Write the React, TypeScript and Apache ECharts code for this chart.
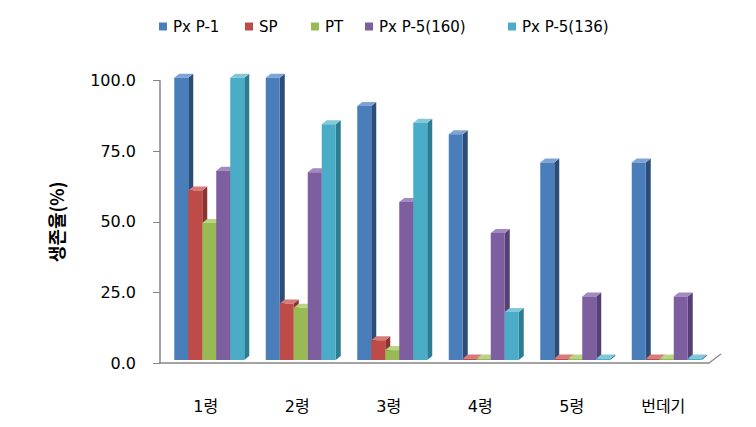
import React, { useEffect, useRef } from "react";
import * as echarts from "echarts";

const categories = ["1령", "2령", "3령", "4령", "5령", "번데기"];
const seriesNames = ["Px P-1", "SP", "PT", "Px P-5(160)", "Px P-5(136)"];
const pxP1 = [100, 100, 90, 80, 70, 70];
const sp = [60, 20, 7, 0, 0, 0];
const pt = [48.5, 18.5, 3.5, 0, 0, 0];
const pxP5_160 = [67, 66.5, 56, 45, 22.5, 22.5];
const pxP5_136 = [100, 83.5, 84, 17, 0, 0];
const seriesValues = [pxP1, sp, pt, pxP5_160, pxP5_136];
const yAxisTitle = "생존율(%)";

const frontColors = ["#4a7ebb", "#be4b48", "#98b954", "#7d5fa0", "#4aacc6"];
const sideColors = ["#2c4d78", "#8a3432", "#6c8a38", "#564073", "#2c7d92"];
const topColors = ["#7ea3d6", "#d77a78", "#b9d583", "#a189c1", "#82c8da"];
const legendLefts = [154, 240, 306, 360, 503];

export default function App() {
  const ref = useRef<HTMLDivElement>(null);
  useEffect(() => {
    if (!ref.current) return;
    const chart = echarts.init(ref.current, undefined, { renderer: "svg" });
    const series = seriesValues.map((vals, sIdx) => ({
      type: "custom",
      name: seriesNames[sIdx],
      itemStyle: { color: frontColors[sIdx] },
      encode: { x: 0, y: 1 },
      data: vals.map((v, i) => [i, v]),
      renderItem: (params: any, api: any) => {
        const ci = api.value(0);
        const v = api.value(1);
        const catW = api.size([1, 0])[0];
        const base = api.coord([ci, 0]);
        const top = api.coord([ci, v]);
        const bw = (catW * 14) / 91.5;
        const dx = (catW * 5) / 91.5;
        const dy = -4;
        const lift = 3;
        const left = base[0] - (catW * 31.5) / 91.5 + sIdx * bw;
        const yb = base[1] - lift;
        let yt = top[1] - lift;
        if (yb - yt < 1.5) yt = yb - 1.5;
        return {
          type: "group",
          children: [
            {
              type: "polygon",
              shape: {
                points: [
                  [left + bw, yt],
                  [left + bw + dx, yt + dy],
                  [left + bw + dx, yb + dy],
                  [left + bw, yb],
                ],
              },
              style: { fill: sideColors[sIdx] },
            },
            {
              type: "polygon",
              shape: {
                points: [
                  [left, yt],
                  [left + dx, yt + dy],
                  [left + bw + dx, yt + dy],
                  [left + bw, yt],
                ],
              },
              style: { fill: topColors[sIdx] },
            },
            {
              type: "rect",
              shape: { x: left, y: yt, width: bw, height: yb - yt },
              style: { fill: frontColors[sIdx] },
            },
          ],
        };
      },
    }));

    chart.setOption({
      animation: false,
      backgroundColor: "#ffffff",
      grid: { left: 160, right: 47, top: 80.7, bottom: 64 },
      legend: seriesNames.map((n, i) => ({
        data: [n],
        left: legendLefts[i],
        top: 14,
        itemWidth: 8,
        itemHeight: 8,
        icon: "rect",
        textStyle: {
          fontSize: 15,
          fontFamily: "DejaVu Sans",
          color: "#000",
          padding: [0, 0, 0, 1],
        },
      })),
      xAxis: {
        type: "category",
        data: categories,
        boundaryGap: true,
        axisLine: { lineStyle: { color: "#868686", width: 1.5 } },
        axisTick: { length: 7, lineStyle: { color: "#868686" } },
        axisLabel: {
          margin: 35,
          fontSize: 16,
          color: "#000",
          fontFamily: "'DejaVu Sans', 'Noto Sans CJK KR'",
        },
      },
      yAxis: {
        type: "value",
        min: 0,
        max: 100,
        interval: 25,
        name: yAxisTitle,
        nameLocation: "middle",
        nameGap: 95,
        nameTextStyle: {
          fontSize: 18,
          fontWeight: "bold",
          color: "#000",
          fontFamily: "'Noto Sans CJK KR'",
        },
        splitLine: { show: false },
        axisLine: { show: true, lineStyle: { color: "#868686", width: 1.5 } },
        axisTick: { show: true, length: 7, lineStyle: { color: "#868686" } },
        axisLabel: {
          margin: 24,
          fontSize: 16,
          color: "#000",
          fontFamily: "DejaVu Sans",
          formatter: (v: number) => v.toFixed(1),
        },
      },
      graphic: [
        {
          type: "line",
          shape: { x1: 709, y1: 363, x2: 721, y2: 354 },
          style: { stroke: "#868686", lineWidth: 1.2 },
        },
      ],
      series,
    });
    return () => chart.dispose();
  }, []);
  return (
    <div
      ref={ref}
      style={{ position: "fixed", left: 0, top: 0, width: 756, height: 427, background: "#fff" }}
    />
  );
}
